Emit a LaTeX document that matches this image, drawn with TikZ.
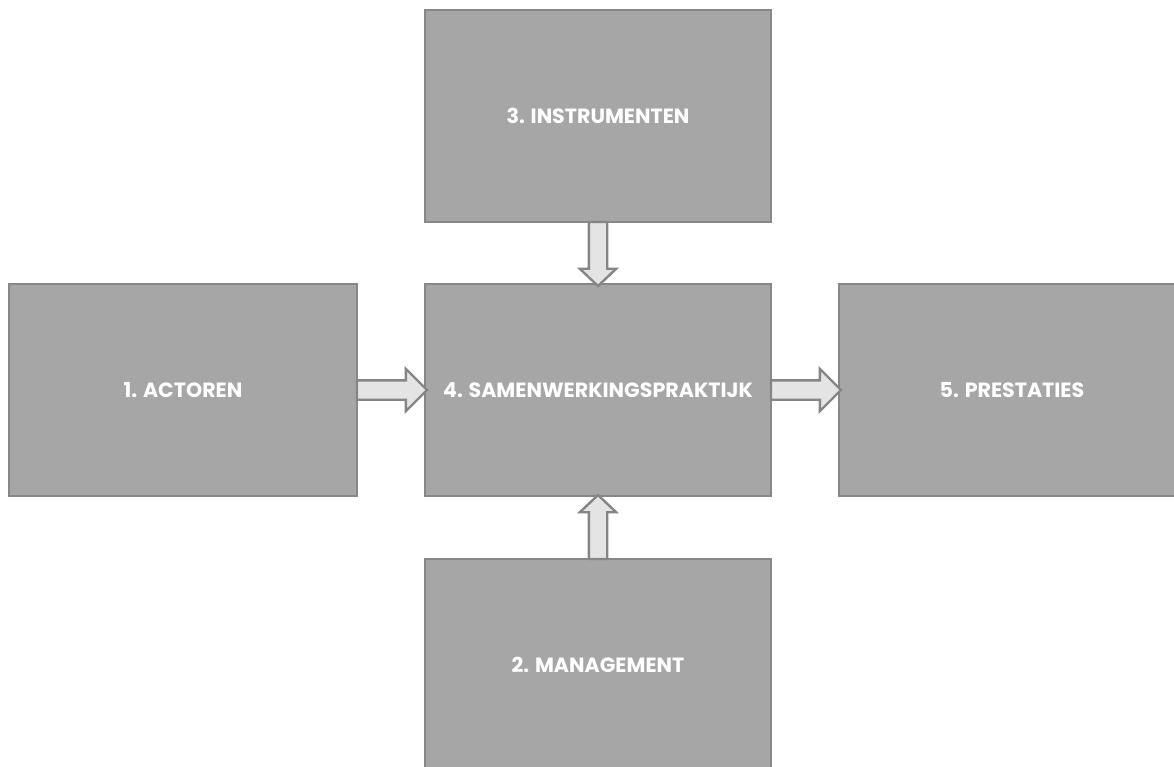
\documentclass[tikz,border=0pt]{standalone}
\usepackage{fontspec}
\setmainfont{Poppins}
\usetikzlibrary{shapes.arrows}
\definecolor{boxfill}{HTML}{A6A6A6}
\definecolor{boxline}{HTML}{878787}
\definecolor{arrfill}{HTML}{E4E4E4}
\definecolor{arrline}{HTML}{858585}
\tikzset{
  block/.style={draw=boxline, line width=1.2pt, fill=boxfill, anchor=north west,
    minimum width=346pt, minimum height=212pt, inner sep=0pt, outer sep=0pt,
    text=white, font=\bfseries\fontsize{20.6}{24}\selectfont},
  fatarrow/.style={single arrow, draw=arrline, fill=arrfill, line width=2.4pt,
    inner xsep=0pt, inner ysep=8.5pt, outer sep=0pt, single arrow head extend=11.5pt,
    single arrow tip angle=90, minimum height=#1, sloped, at start, anchor=tail},
  vfatarrow/.style={single arrow, draw=arrline, fill=arrfill, line width=2.4pt,
    inner xsep=0pt, inner ysep=8pt, outer sep=0pt, single arrow head extend=9pt,
    single arrow tip angle=93, minimum height=#1, sloped, at start, anchor=tail}
}
\begin{document}
\begin{tikzpicture}[x=1pt,y=-1pt]
\useasboundingbox (0,0) rectangle (1174,767);
\node[block, minimum width=348pt] (act) at (9,284) {1. ACTOREN};
\node[block] (ins) at (425,10) {3. INSTRUMENTEN};
\node[block] (sam) at (425,284) {4. SAMENWERKINGSPRAKTIJK};
\node[block] (pre) at (839,284) {5. PRESTATIES};
\node[block] (man) at (425,559) {2. MANAGEMENT};
\path (act.east) -- (sam.west) node[fatarrow=70pt] (a1) {};
\path (sam.east) -- (pre.west) node[fatarrow=70pt] (a2) {};
\path (ins.south) -- (sam.north) node[vfatarrow=64pt] (a3) {};
\path (man.north) -- (sam.south) node[vfatarrow=64pt] (a4) {};
\end{tikzpicture}
\end{document}
